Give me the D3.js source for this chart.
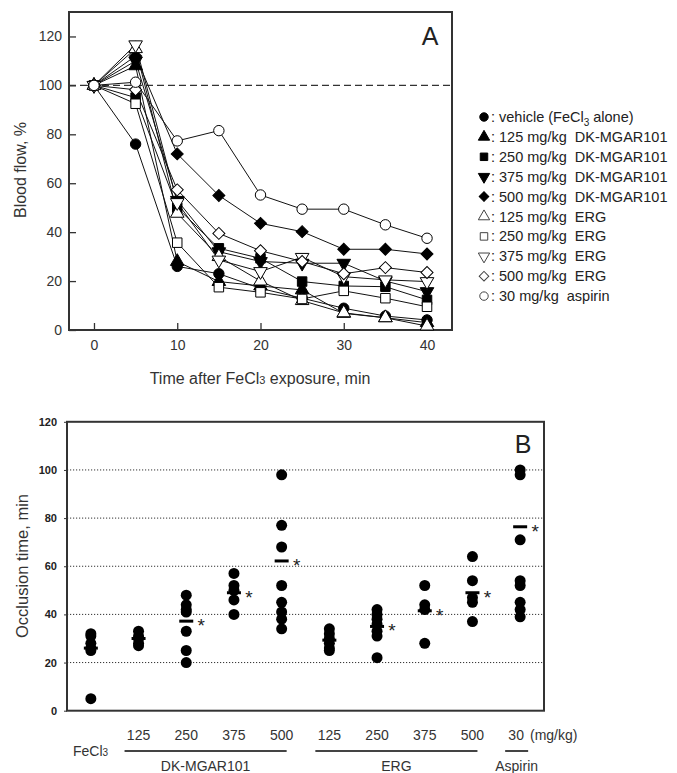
<!DOCTYPE html>
<html>
<head>
<meta charset="utf-8">
<script src="https://cdn.jsdelivr.net/npm/d3@7"></script>
<style>
  body { margin: 0; background: #fff; }
  svg { font-family: Arial, "Liberation Sans", sans-serif; }
</style>
</head>
<body>
<svg id="chart" width="677" height="773"></svg>
<script>
// ---------- Panel A data: blood flow (%) over time ----------
const times = [0, 5, 10, 15, 20, 25, 30, 35, 40];

const vehicle   = [100, 76, 26, 23, 17, 13, 8.9, 5.7, 4.1];
const dk125     = [100, 108, 28, 19.8, 18, 16.4, 6.8, 5, 3];
const dk250     = [100, 95, 50, 33.4, 29.3, 19.8, 18, 17.7, 12.3];
const dk375     = [100, 110, 53, 32, 28, 27.3, 27.3, 20, 15.7];
const dk500     = [100, 112, 72, 55, 43.6, 40.2, 33, 33, 31.1];
const erg125    = [100, 115, 47.7, 30, 20, 12, 7, 5, 1.6];
const erg250    = [100, 92.5, 35.7, 17.5, 15.4, 12.7, 16, 13, 9.5];
const erg375    = [100, 116.6, 52.1, 28.6, 23.9, 29.7, 21.8, 20.5, 19.8];
const erg500    = [100, 98.2, 57.3, 39.5, 32.4, 28, 23, 25.5, 23.5];
const aspirin   = [100, 101.3, 77.3, 81.5, 55.2, 49.4, 49.4, 43, 37.5];

const seriesLabels = [
  'vehicle (FeCl3 alone)',
  '125 mg/kg  DK-MGAR101',
  '250 mg/kg  DK-MGAR101',
  '375 mg/kg  DK-MGAR101',
  '500 mg/kg  DK-MGAR101',
  '125 mg/kg  ERG',
  '250 mg/kg  ERG',
  '375 mg/kg  ERG',
  '500 mg/kg  ERG',
  '30 mg/kg  aspirin'
];
const seriesShapes = ['circle', 'triangle', 'square', 'triangleDown', 'diamond',
                      'triangle', 'square', 'triangleDown', 'diamond', 'circle'];
const seriesFilled = [true, true, true, true, true, false, false, false, false, false];
const seriesValues = [vehicle, dk125, dk250, dk375, dk500, erg125, erg250, erg375, erg500, aspirin];

// ---------- Panel B data: occlusion time (min) ----------
const groupDoses = ['', '125', '250', '375', '500', '125', '250', '375', '500', '30'];
const occlusion = [
  [32, 31, 28, 26, 25, 5],          // FeCl3
  [33, 31, 30, 28, 27],             // 125 DK
  [48, 44, 42, 41, 33, 25, 20],     // 250 DK
  [57, 52, 50, 46, 40],             // 375 DK
  [98, 77, 68, 52, 45, 41, 38, 34], // 500 DK
  [34, 32, 30, 28, 26, 25],         // 125 ERG
  [42, 40, 38, 36, 33, 31, 22],     // 250 ERG
  [52, 44, 42, 28],                 // 375 ERG
  [64, 54, 47, 45, 37],             // 500 ERG
  [100, 98, 71, 54, 52, 45, 42, 39] // aspirin
];
const groupMeans = [26, 30, 37.2, 49, 62.2, 29.3, 35, 41.5, 49, 76.4];
const groupStar = [false, false, true, true, true, false, true, true, true, true];
const groupBrackets = [
  { name: 'DK-MGAR101', from: 1, to: 4 },
  { name: 'ERG', from: 5, to: 8 },
  { name: 'Aspirin', from: 9, to: 9 }
];

const svg = d3.select('#chart');
const ink = '#222';

// Helper: symbol path for a marker shape
function shapePath(shape, size) {
  if (shape === 'circle') return d3.symbol(d3.symbolCircle, size)();
  if (shape === 'square') return d3.symbol(d3.symbolSquare, size)();
  if (shape === 'diamond') return d3.symbol(d3.symbolSquare, size)();
  return d3.symbol(d3.symbolTriangle, size)();
}
function shapeRotate(shape) {
  if (shape === 'diamond') return 45;
  if (shape === 'triangleDown') return 180;
  return 0;
}
function shapeSize(shape) {
  if (shape === 'circle') return 85;
  if (shape === 'square') return 90;
  if (shape === 'diamond') return 72;
  return 80;
}

// ================= Panel A =================
const xA = d3.scaleLinear().domain([-3, 43]).range([69, 452]);
const yA = d3.scaleLinear().domain([0, 130]).range([330, 12]);

const gA = svg.append('g');

// dashed reference at 100%
gA.append('line')
  .attr('x1', xA.range()[0]).attr('x2', xA.range()[1])
  .attr('y1', yA(100)).attr('y2', yA(100))
  .attr('stroke', '#333').attr('stroke-width', 1.3)
  .attr('stroke-dasharray', '7,4');

// axes (ticks pointing inward)
const xAxisA = gA.append('g')
  .attr('transform', `translate(0,${yA.range()[0]})`)
  .call(d3.axisBottom(xA).tickValues([0, 10, 20, 30, 40]).tickSizeInner(-7).tickSizeOuter(0).tickPadding(10));
const yAxisA = gA.append('g')
  .attr('transform', `translate(${xA.range()[0]},0)`)
  .call(d3.axisLeft(yA).tickValues([0, 20, 40, 60, 80, 100, 120]).tickSizeInner(-7).tickSizeOuter(0).tickPadding(7));
[xAxisA, yAxisA].forEach(ax => {
  ax.select('.domain').remove();
  ax.selectAll('line').attr('stroke', '#333').attr('stroke-width', 1.3);
  ax.selectAll('text').attr('font-size', 14).attr('fill', '#333').attr('font-family', null);
});

// frame
gA.append('rect')
  .attr('x', xA.range()[0]).attr('y', yA.range()[1])
  .attr('width', xA.range()[1] - xA.range()[0])
  .attr('height', yA.range()[0] - yA.range()[1])
  .attr('fill', 'none').attr('stroke', '#333').attr('stroke-width', 2);

// lines
const lineA = d3.line().x((d, i) => xA(times[i])).y(d => yA(d));
gA.selectAll('path.series')
  .data(seriesValues)
  .enter()
  .append('path')
  .attr('class', 'series')
  .attr('d', d => lineA(d))
  .attr('fill', 'none')
  .attr('stroke', '#111')
  .attr('stroke-width', 1);

// markers
seriesValues.forEach((vals, s) => {
  const shape = seriesShapes[s];
  gA.append('g').selectAll('path')
    .data(vals)
    .enter()
    .append('path')
    .attr('d', shapePath(shape, shapeSize(shape)))
    .attr('transform', (d, i) => `translate(${xA(times[i])},${yA(d)}) rotate(${shapeRotate(shape)})`)
    .attr('fill', seriesFilled[s] ? '#000' : '#fff')
    .attr('stroke', '#000')
    .attr('stroke-width', 1);
});

// panel letter
gA.append('text')
  .attr('x', 430).attr('y', 45)
  .attr('text-anchor', 'middle')
  .attr('font-size', 25).attr('fill', ink)
  .text('A');

// axis titles
gA.append('text')
  .attr('transform', 'translate(26,170) rotate(-90)')
  .attr('text-anchor', 'middle')
  .attr('font-size', 16).attr('fill', '#333')
  .text('Blood flow, %');
const xTitle = gA.append('text')
  .attr('x', 260).attr('y', 384)
  .attr('text-anchor', 'middle')
  .attr('font-size', 16).attr('fill', '#333');
xTitle.append('tspan').text('Time after FeCl');
xTitle.append('tspan').attr('font-size', 11).text('3');
xTitle.append('tspan').text(' exposure, min');

// legend
const legend = gA.append('g');
seriesLabels.forEach((label, s) => {
  const ly = 117 + s * 19.9;
  const shape = seriesShapes[s];
  legend.append('path')
    .attr('d', shapePath(shape, shape === 'diamond' ? 46 : 56))
    .attr('transform', `translate(484,${ly}) rotate(${shapeRotate(shape)})`)
    .attr('fill', seriesFilled[s] ? '#000' : '#fff')
    .attr('stroke', seriesFilled[s] ? '#000' : '#444')
    .attr('stroke-width', 1);
  const t = legend.append('text')
    .attr('x', 491).attr('y', ly + 5)
    .attr('font-size', 14.5).attr('fill', ink)
    .attr('xml:space', 'preserve');
  if (label.includes('FeCl3')) {
    t.append('tspan').text(': vehicle (FeCl');
    t.append('tspan').attr('font-size', 10).attr('dy', 4).text('3');
    t.append('tspan').attr('dy', -4).text(' alone)');
  } else {
    t.text(': ' + label);
  }
});

// ================= Panel B =================
const xB = d3.scaleLinear().domain([-0.5, 9.5]).range([67, 544]);
const yB = d3.scaleLinear().domain([0, 120]).range([710.7, 421.8]);

const gB = svg.append('g');

// dotted grid
gB.selectAll('line.grid')
  .data([20, 40, 60, 80, 100])
  .enter()
  .append('line')
  .attr('class', 'grid')
  .attr('x1', xB.range()[0]).attr('x2', xB.range()[1])
  .attr('y1', d => yB(d)).attr('y2', d => yB(d))
  .attr('stroke', '#333').attr('stroke-width', 1)
  .attr('stroke-dasharray', '1.2,1.8');

const yAxisB = gB.append('g')
  .attr('transform', `translate(${xB.range()[0]},0)`)
  .call(d3.axisLeft(yB).tickValues([0, 20, 40, 60, 80, 100, 120]).tickSizeInner(3).tickSizeOuter(0).tickPadding(7));
yAxisB.select('.domain').remove();
yAxisB.selectAll('line').attr('stroke', '#333');
yAxisB.selectAll('text').attr('font-size', 11).attr('font-weight', 'bold').attr('fill', '#222').attr('font-family', null);

// frame
gB.append('rect')
  .attr('x', xB.range()[0]).attr('y', yB.range()[1])
  .attr('width', xB.range()[1] - xB.range()[0])
  .attr('height', yB.range()[0] - yB.range()[1])
  .attr('fill', 'none').attr('stroke', '#333').attr('stroke-width', 2);

// individual points
occlusion.forEach((vals, g) => {
  gB.append('g').selectAll('circle')
    .data(vals)
    .enter()
    .append('circle')
    .attr('cx', xB(g))
    .attr('cy', d => yB(d))
    .attr('r', 5.5)
    .attr('fill', '#000');
});

// mean bars and significance stars
gB.selectAll('line.mean')
  .data(groupMeans)
  .enter()
  .append('line')
  .attr('class', 'mean')
  .attr('x1', (d, i) => xB(i) - 7).attr('x2', (d, i) => xB(i) + 7)
  .attr('y1', d => yB(d)).attr('y2', d => yB(d))
  .attr('stroke', '#000').attr('stroke-width', 3);
gB.selectAll('text.star')
  .data(groupMeans.map((m, i) => ({ m, i })).filter(d => groupStar[d.i]))
  .enter()
  .append('text')
  .attr('class', 'star')
  .attr('x', d => xB(d.i) + 15)
  .attr('y', d => yB(d.m) + 11)
  .attr('text-anchor', 'middle')
  .attr('font-size', 19).attr('fill', ink)
  .text('*');

// panel letter
gB.append('text')
  .attr('x', 523).attr('y', 453)
  .attr('text-anchor', 'middle')
  .attr('font-size', 25).attr('fill', ink)
  .text('B');

// y title
gB.append('text')
  .attr('transform', 'translate(28,566) rotate(-90)')
  .attr('text-anchor', 'middle')
  .attr('font-size', 16.5).attr('fill', '#333')
  .text('Occlusion time, min');

// dose labels below axis
gB.selectAll('text.dose')
  .data(groupDoses)
  .enter()
  .append('text')
  .attr('class', 'dose')
  .attr('x', (d, i) => xB(i) - (i === 9 ? 4 : 0))
  .attr('y', 740)
  .attr('text-anchor', 'middle')
  .attr('font-size', 14).attr('fill', '#333')
  .text(d => d);
gB.append('text')
  .attr('x', 530).attr('y', 740)
  .attr('font-size', 14).attr('fill', '#333')
  .text('(mg/kg)');

const fe = gB.append('text')
  .attr('x', 73).attr('y', 756)
  .attr('font-size', 14).attr('fill', '#333');
fe.append('tspan').text('FeCl');
fe.append('tspan').attr('font-size', 10).text('3');

// group brackets
groupBrackets.forEach(b => {
  const x1 = xB(b.from) - (b.from === b.to ? 15 : 14);
  const x2 = xB(b.to) + (b.from === b.to ? 8 : 5);
  gB.append('line')
    .attr('x1', x1).attr('x2', x2)
    .attr('y1', 751).attr('y2', 751)
    .attr('stroke', '#444').attr('stroke-width', 2);
  gB.append('text')
    .attr('x', (x1 + x2) / 2).attr('y', 771)
    .attr('text-anchor', 'middle')
    .attr('font-size', 14).attr('fill', '#333')
    .text(b.name);
});
</script>
</body>
</html>
